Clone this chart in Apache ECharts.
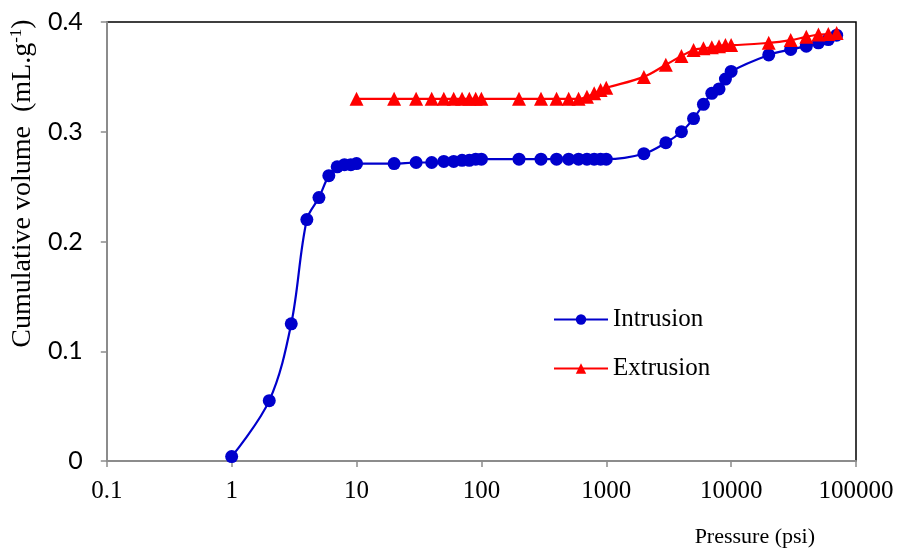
<!DOCTYPE html>
<html>
<head>
<meta charset="utf-8">
<script src="https://cdn.jsdelivr.net/npm/echarts@6/dist/echarts.min.js"></script>
<style>html,body{margin:0;padding:0;background:#fff;}#c{width:898px;height:551px;}</style>
</head>
<body>
<div id="c"></div>
<script>
const xTickLabels = ['0.1','1','10','100','1000','10000','100000'];
const yTickLabels = ['0','0.1','0.2','0.3','0.4'];

const intrusionP = [1,2,3,4,5,6,7,8,9,10,20,30,40,50,60,70,80,90,100,200,300,400,500,600,700,800,900,1000,2000,3000,4000,5000,6000,7000,8000,9000,10000,20000,30000,40000,50000,60000,70000];
const intrusionV = [0.004,0.055,0.125,0.22,0.24,0.26,0.268,0.27,0.27,0.271,0.271,0.272,0.272,0.273,0.273,0.274,0.274,0.275,0.275,0.275,0.275,0.275,0.275,0.275,0.275,0.275,0.275,0.275,0.28,0.29,0.30,0.312,0.325,0.335,0.339,0.348,0.355,0.37,0.375,0.378,0.381,0.384,0.388];

const extrusionP = [10,20,30,40,50,60,70,80,90,100,200,300,400,500,600,700,800,900,1000,2000,3000,4000,5000,6000,7000,8000,9000,10000,20000,30000,40000,50000,60000,70000];
const extrusionV = [0.33,0.33,0.33,0.33,0.33,0.33,0.33,0.33,0.33,0.33,0.33,0.33,0.33,0.33,0.33,0.332,0.335,0.338,0.34,0.35,0.361,0.369,0.3745,0.376,0.377,0.378,0.379,0.379,0.381,0.3835,0.3865,0.3885,0.389,0.39];

const chart = echarts.init(document.getElementById('c'));
const serif = '"Liberation Serif", "Times New Roman", serif';
const sans = 'Lato, "Open Sans", sans-serif';
chart.setOption({
  animation: false,
  backgroundColor: '#fff',
  grid: { left: 106, right: 42, top: 22, bottom: 90, show: true, borderColor: '#000', borderWidth: 1.5, backgroundColor: 'transparent' },
  legend: {
    orient: 'vertical', left: 553, top: 307, padding: 0, itemWidth: 54, itemHeight: 13, itemGap: 24,
    textStyle: { fontFamily: serif, fontSize: 25, color: '#000' },
    data: ['Intrusion','Extrusion']
  },
  xAxis: {
    type: 'log', logBase: 10, min: 0.1, max: 100000,
    name: 'Pressure (psi)', nameLocation: 'end', nameGap: 0,
    nameTextStyle: { fontFamily: serif, fontSize: 22, color: '#000', align: 'right', verticalAlign: 'top', padding: [65, 41, 0, 0] },
    axisLine: { lineStyle: { color: '#8c8c8c', width: 2 } },
    axisTick: { show: true, inside: false, length: 6, lineStyle: { color: '#8c8c8c', width: 1.5 } },
    minorTick: { show: false },
    splitLine: { show: false },
    axisLabel: { margin: 18, fontFamily: serif, fontSize: 25, color: '#000',
      formatter: v => xTickLabels[Math.round(Math.log10(v)) + 1] }
  },
  yAxis: {
    type: 'value', min: 0, max: 0.4, interval: 0.1,
    name: '{m|Cumulative volume  (mL.g}{s|-1}{m|)}', nameLocation: 'middle', nameGap: 68, nameRotate: 90,
    nameTextStyle: { padding: [0, 0, 0, 116], rich: {
      m: { fontFamily: serif, fontSize: 28, color: '#000' },
      s: { fontFamily: serif, fontSize: 17, color: '#000', padding: [0,0,13,0] }
    } },
    axisLine: { show: true, lineStyle: { color: '#8c8c8c', width: 2 } },
    axisTick: { show: true, inside: false, length: 6, lineStyle: { color: '#8c8c8c', width: 1.5 } },
    splitLine: { show: false },
    axisLabel: { margin: 24, fontFamily: sans, fontSize: 25, color: '#000',
      formatter: v => yTickLabels[Math.round(v * 10)] }
  },
  series: [
    { name: 'Intrusion', type: 'line', smooth: 0.35, symbol: 'circle', symbolSize: 13,
      itemStyle: { color: '#0000CC' }, lineStyle: { color: '#0000CC', width: 2.2 },
      data: intrusionP.map((p, i) => [p, intrusionV[i]]) },
    { name: 'Extrusion', type: 'line', smooth: 0.35, symbol: 'triangle', symbolSize: 14,
      itemStyle: { color: '#FF0000' }, lineStyle: { color: '#FF0000', width: 2.2 },
      data: extrusionP.map((p, i) => [p, extrusionV[i]]) }
  ]
});
</script>
</body>
</html>
